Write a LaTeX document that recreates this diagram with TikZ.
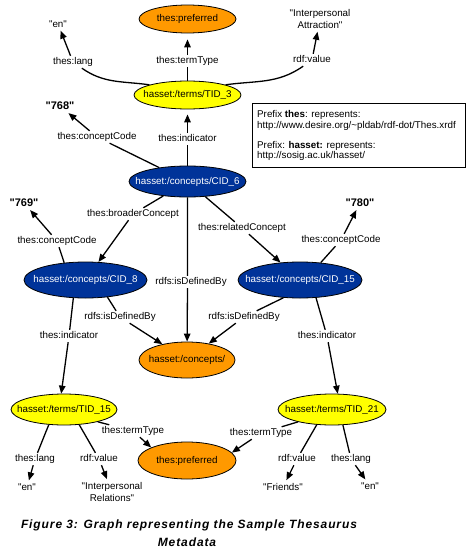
\documentclass[tikz,border=0pt]{standalone}
\usepackage{fontspec}
\setmainfont{Liberation Sans}[Ligatures=TeXOff]
\usetikzlibrary{shapes.geometric,arrows.meta}
\definecolor{gorange}{HTML}{FF9900}
\definecolor{gyellow}{HTML}{FFFF00}
\definecolor{gblue}{HTML}{003399}
\tikzset{
  basefont/.style={font=\fontsize{9.8}{12}\selectfont},
  resnode/.style={basefont, ellipse, draw=black, line width=0.8pt, inner sep=0pt},
  orangeres/.style={resnode, fill=gorange},
  yellowres/.style={resnode, fill=gyellow},
  blueres/.style={resnode, fill=gblue, text=white},
  lbl/.style={basefont, inner xsep=1.5pt, inner ysep=1.5pt, text height=7pt, text depth=2pt},
  valnode/.style={basefont, inner xsep=2pt, inner ysep=3pt, align=center},
  codenode/.style={font=\fontsize{11}{13}\selectfont\bfseries, inner sep=3pt},
  boxtext/.style={basefont, anchor=west, inner sep=0pt},
  captext/.style={font=\fontsize{12}{14}\selectfont\bfseries\itshape\addfontfeature{LetterSpace=7.5}, inner sep=0pt},
  conn/.style={line width=1.3pt, -{Triangle[length=8pt,width=6.5pt]}}
}
\begin{document}
\begin{tikzpicture}
\useasboundingbox (0,0) rectangle (466pt,-554pt);
\begin{scope}[x=1pt,y=1pt]
% resource nodes
\node[orangeres, minimum width=97pt, minimum height=28pt] (pref1) at (187.5,-19) {\makebox[0pt]{thes:preferred}};
\node[yellowres, minimum width=107pt, minimum height=28pt] (tid3) at (187.5,-95) {\makebox[0pt]{hasset:/terms/TID\_3}};
\node[blueres, minimum width=117pt, minimum height=31pt] (cid6) at (187.5,-181.5) {\makebox[0pt]{hasset:/concepts/CID\_6}};
\node[blueres, minimum width=123pt, minimum height=36pt] (cid8) at (85.5,-280) {\makebox[0pt]{hasset:/concepts/CID\_8}};
\node[blueres, minimum width=124pt, minimum height=36pt] (cid15) at (300,-280) {\makebox[0pt]{hasset:/concepts/CID\_15}};
\node[orangeres, minimum width=96pt, minimum height=36pt] (concepts) at (187,-360) {\makebox[0pt]{hasset:/concepts/}};
\node[yellowres, minimum width=106pt, minimum height=31pt] (tid15) at (64,-409.5) {\makebox[0pt]{hasset:/terms/TID\_15}};
\node[yellowres, minimum width=108pt, minimum height=31pt] (tid21) at (332,-409.5) {\makebox[0pt]{hasset:/terms/TID\_21}};
\node[orangeres, minimum width=98pt, minimum height=37pt] (pref2) at (187,-460.5) {\makebox[0pt]{thes:preferred}};
% literal nodes
\node[valnode] (en1) at (58,-24) {"en"};
\node[valnode] (attr) at (320,-19) {"Interpersonal\\Attraction"};
\node[codenode] (c768) at (60,-106) {"768"};
\node[codenode] (c769) at (24,-203) {"769"};
\node[codenode] (c780) at (360,-203) {"780"};
\node[valnode] (en2) at (27,-487) {"en"};
\node[valnode] (irel) at (112,-492) {"Interpersonal\\Relations"};
\node[valnode] (friends) at (283,-487) {"Friends"};
\node[valnode] (en3) at (370,-486) {"en"};
% edge labels
\node[lbl] (l1) at (73,-62) {thes:lang};
\node[lbl] (l2) at (187.5,-61) {thes:termType};
\node[lbl] (l3) at (312,-60) {rdf:value};
\node[lbl] (l4) at (97,-137) {thes:conceptCode};
\node[lbl] (l5) at (187.5,-139) {thes:indicator};
\node[lbl] (l6) at (133,-214) {thes:broaderConcept};
\node[lbl] (l7) at (242,-228) {thes:relatedConcept};
\node[lbl] (l8) at (191,-282) {rdfs:isDefinedBy};
\node[lbl] (l9) at (57,-241) {thes:conceptCode};
\node[lbl] (l10) at (341,-240) {thes:conceptCode};
\node[lbl] (l11) at (120,-317) {rdfs:isDefinedBy};
\node[lbl] (l12) at (244,-317) {rdfs:isDefinedBy};
\node[lbl] (l13) at (69,-336) {thes:indicator};
\node[lbl] (l14) at (327,-336) {thes:indicator};
\node[lbl] (l15) at (133,-431) {thes:termType};
\node[lbl] (l16) at (261,-433) {thes:termType};
\node[lbl] (l17) at (35,-459) {thes:lang};
\node[lbl] (l18) at (99,-459) {rdf:value};
\node[lbl] (l19) at (297,-459) {rdf:value};
\node[lbl] (l20) at (351,-459) {thes:lang};
% edges
\draw[conn] (tid3.165) to[out=172,in=-35] (l1) -- (en1);
\draw[conn, shorten >=6pt] (tid3) -- (l2) -- (pref1);
\draw[conn] (tid3.15) to[out=8,in=-145] (l3) -- (attr);
\draw[conn] (cid6) -- (l4) -- (c768);
\draw[conn, shorten >=5pt] (cid6) -- (l5) -- (tid3);
\draw[conn] (cid6) -- (l6) -- (cid8);
\draw[conn] (cid6) -- (l7) -- (cid15);
\draw[conn] (cid6) -- (cid6 |- l8.north) (cid6 |- l8.south) -- (concepts);
\draw[conn] (cid8.141) -- (l9) -- (c769);
\draw[conn] (cid15.40) -- (l10) -- (c780);
\draw[conn] (cid8.-38) -- (l11) -- (concepts);
\draw[conn] (cid15.-133) -- (l12) -- (concepts);
\draw[conn] (cid8.-124) -- (l13) -- (tid15.100);
\draw[conn] (cid15.-48) -- (l14) -- (tid21.70);
\draw[conn] (tid15.-20) -- (l15) -- (pref2.160);
\draw[conn] (tid21.-160) -- (l16) -- (pref2.10);
\draw[conn] (tid15.-135) -- (l17) -- (en2);
\draw[conn] (tid15.-45) -- (l18) -- (irel);
\draw[conn] (tid21.-135) -- (l19) -- (friends);
\draw[conn] (tid21.-55) -- (l20) -- (en3);
% prefix box
\node[draw, line width=0.8pt, minimum width=213pt, minimum height=64pt, anchor=north west, inner sep=0pt] (box) at (252,-103) {};
\node[boxtext] (bt1) at (257,-115) {Prefix \textbf{thes}: represents:};
\node[boxtext] (bt2) at (257,-125.5) {http://www.desire.org/\char`~pldab/rdf-dot/Thes.xrdf};
\node[boxtext] (bt3) at (257,-146) {Prefix: \textbf{hasset:} represents:};
\node[boxtext] (bt4) at (257,-156) {http://sosig.ac.uk/hasset/};
% caption
\node[captext] (cap1) at (189,-525) {Figure 3: Graph representing the Sample Thesaurus};
\node[captext] (cap2) at (187,-542) {Metadata};
\end{scope}
\end{tikzpicture}
\end{document}
